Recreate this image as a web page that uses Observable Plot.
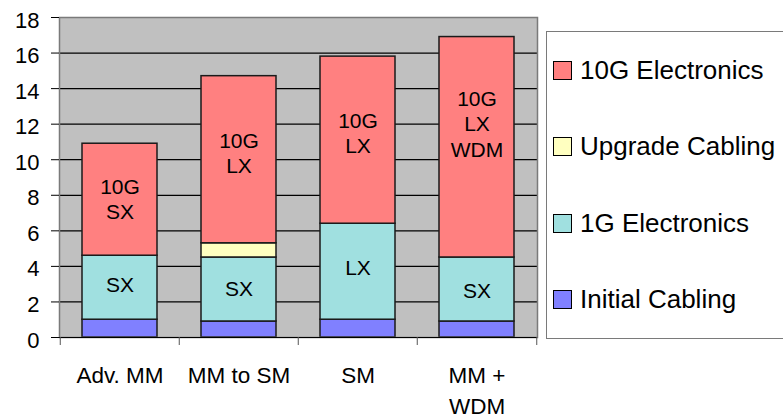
<!DOCTYPE html>
<html>
<head>
<meta charset="utf-8">
<script src="https://cdn.jsdelivr.net/npm/d3@7"></script>
<script src="https://cdn.jsdelivr.net/npm/@observablehq/plot@0.6"></script>
<style>
  body { margin: 0; background: #fff; font-family: "Liberation Sans", Arial, sans-serif; }
  #wrap { position: relative; width: 783px; height: 419px; overflow: hidden; }
  #chart { position: absolute; left: 0; top: 0; }
  #legend {
    position: absolute; left: 546px; top: 31px; width: 260px; height: 306px;
    border: 1.5px solid #7a7a7a; background: #fff;
    display: flex; flex-direction: column; justify-content: space-around;
  }
  .item { display: flex; align-items: center; font-size: 26px; color: #000; padding-left: 6px; white-space: nowrap; }
  .sw { width: 17px; height: 17px; border: 1px solid #000; margin-right: 8px; flex: none; }
</style>
</head>
<body>
<div id="wrap"><div id="chart"></div><div id="legend"></div></div>
<script>
// Cost build-up per upgrade path (stacked bottom to top)
const categories = ["Adv. MM", "MM to SM", "SM", "MM +\nWDM"];
const series = ["Initial Cabling", "1G Electronics", "Upgrade Cabling", "10G Electronics"];
const initialCabling = [1.0, 0.9, 1.0, 0.9];
const oneGElectronics = [3.6, 3.6, 5.4, 3.6];
const upgradeCabling = [0, 0.8, 0, 0];
const tenGElectronics = [6.3, 9.4, 9.4, 12.4];
const oneGLabels = ["SX", "SX", "LX", "SX"];
const tenGLabels = ["10G\nSX", "10G\nLX", "10G\nLX", "10G\nLX\nWDM"];
const yTicks = [0, 2, 4, 6, 8, 10, 12, 14, 16, 18];

// Styling and layout
const colors = ["#8080ff", "#a0e0e0", "#ffffc0", "#ff8080"];
const oneGShift = [-3.5, -2, -5, 0];    // vertical nudge of the in-bar labels, px
const tenGShift = [-1, -7, -8, -24];
const W = 546, H = 419, mL = 59, mR = 9, mT = 17, mB = 82;
const step = (W - mL - mR) / categories.length;

const valuesBySeries = [initialCabling, oneGElectronics, upgradeCabling, tenGElectronics];
const rows = [];
series.forEach((s, i) => categories.forEach((c, j) => {
  const v = valuesBySeries[i][j];
  if (v > 0) rows.push({category: c, series: s, value: v});
}));

// In-bar labels sit in the middle of the 1G and 10G segments
const labelMarks = categories.flatMap((c, j) => {
  const b1 = initialCabling[j], t1 = b1 + oneGElectronics[j];
  const b10 = t1 + upgradeCabling[j], t10 = b10 + tenGElectronics[j];
  return [
    Plot.text([{category: c, y: (b1 + t1) / 2, text: oneGLabels[j]}],
      {x: "category", y: "y", text: "text", fontSize: 21, lineHeight: 1.2, fill: "#000", dy: oneGShift[j]}),
    Plot.text([{category: c, y: (b10 + t10) / 2, text: tenGLabels[j]}],
      {x: "category", y: "y", text: "text", fontSize: 21, lineHeight: 1.2, fill: "#000", dy: tenGShift[j]})
  ];
});

const chart = Plot.plot({
  width: W, height: H,
  marginLeft: mL, marginRight: mR, marginTop: mT, marginBottom: mB,
  style: {fontFamily: "'Liberation Sans', Arial, sans-serif", background: "#fff", color: "#000", overflow: "visible"},
  x: {domain: categories, paddingInner: 0.37, paddingOuter: 0.185, axis: null, label: null},
  y: {domain: [0, 18], axis: null, label: null},
  color: {domain: series, range: colors},
  marks: [
    Plot.frame({fill: "#c0c0c0"}),
    Plot.gridY(yTicks.slice(0, -1), {stroke: "#000", strokeOpacity: 1, strokeWidth: 1.2}),
    Plot.barY(rows, {x: "category", y: "value", fill: "series", stroke: "#1a1a1a", strokeWidth: 1.5}),
    Plot.frame({stroke: "#7a7a7a", strokeWidth: 1.5}),
    Plot.ruleY([0], {stroke: "#000", strokeWidth: 1.2}),
    Plot.axisY(yTicks, {tickSize: 8, tickFormat: () => "", stroke: "#000", label: null}),
    Plot.axisY(yTicks, {tickSize: 0, tickPadding: 20, dy: 3, fontSize: 22, label: null}),
    Plot.axisX(categories, {tickSize: 8, tickFormat: () => "", dx: -step / 2, stroke: "#555", label: null}),
    Plot.axisX(categories.slice(-1), {tickSize: 8, tickFormat: () => "", dx: step / 2, stroke: "#555", label: null}),
    Plot.axisX(categories, {tickSize: 0, tickPadding: 24, fontSize: 22.5, lineHeight: 1.36, label: null}),
    ...labelMarks
  ]
});
document.getElementById("chart").appendChild(chart);

// Legend, top to bottom in stack order reversed
const legend = document.getElementById("legend");
series.map((s, i) => [s, colors[i]]).reverse().forEach(([s, c]) => {
  const item = document.createElement("div");
  item.className = "item";
  const sw = document.createElement("span");
  sw.className = "sw";
  sw.style.background = c;
  const label = document.createElement("span");
  label.textContent = s;
  item.append(sw, label);
  legend.appendChild(item);
});
</script>
</body>
</html>
